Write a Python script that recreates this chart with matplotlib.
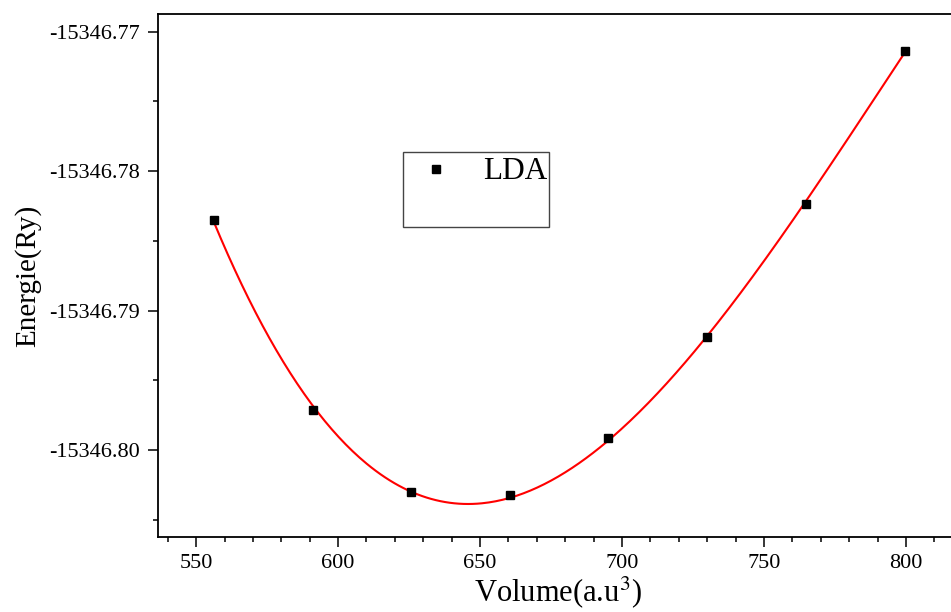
import numpy as np
import matplotlib
matplotlib.use("Agg")
import matplotlib.pyplot as plt
from matplotlib.patches import Rectangle
from matplotlib.ticker import MultipleLocator, FormatStrFormatter

# volume (a.u^3) and total energy (Ry), LDA
volume = [556.3, 591.0, 625.7, 660.4, 695.2, 730.0, 764.8, 799.5]
energy = [-15346.78349, -15346.79715, -15346.80303, -15346.80319,
          -15346.79912, -15346.79192, -15346.78239, -15346.77136]

plt.rcParams["font.family"] = ["Liberation Serif", "DejaVu Serif"]
plt.rcParams["mathtext.fontset"] = "stix"

fig = plt.figure(figsize=(9.51, 6.12), dpi=100)
ax = fig.add_axes([0.1665, 0.1225, 0.84, 0.8546])

# fitted curve (cubic fit of the points)
coef = np.polyfit(volume, energy, 3)
vfit = np.linspace(volume[0], volume[-1], 300)
ax.plot(vfit, np.polyval(coef, vfit), color="red", lw=1.5, zorder=2)
pts, = ax.plot(volume, energy, ls="none", marker="s", ms=6.2, color="black",
               zorder=3, label="LDA")

ax.set_xlim(536.7, 818)
ax.set_ylim(-15346.80624, -15346.76873)

ax.xaxis.set_major_locator(MultipleLocator(50))
ax.xaxis.set_minor_locator(MultipleLocator(10))
ax.yaxis.set_major_locator(MultipleLocator(0.01))
ax.yaxis.set_minor_locator(MultipleLocator(0.005))
ax.yaxis.set_major_formatter(FormatStrFormatter("%.2f"))

ax.tick_params(which="major", direction="out", length=7, width=1.1,
               labelsize=16, pad=6)
ax.tick_params(axis="x", which="major", pad=5)
ax.tick_params(which="minor", direction="out", length=3.6, width=1.1)
ax.tick_params(top=False, right=False)
for s in ax.spines.values():
    s.set_linewidth(1.3)

ax.set_xlabel("Volume(a.u$^3$)", fontsize=22, labelpad=1)
ax.set_ylabel("Energie(Ry)", fontsize=21, labelpad=6)

# legend box
leg = ax.legend(handles=[pts], loc="center", bbox_to_anchor=(0.4115, 0.698),
                frameon=False, fontsize=22.5, markerscale=0.85,
                handlelength=0.6, handletextpad=1.2, borderpad=0)
ax.add_patch(Rectangle((0.3063, 0.5927), 0.1828, 0.1434, transform=ax.transAxes,
                       fill=False, edgecolor="#444444", lw=1.0, zorder=5))

fig.savefig("out.png", dpi=100)
